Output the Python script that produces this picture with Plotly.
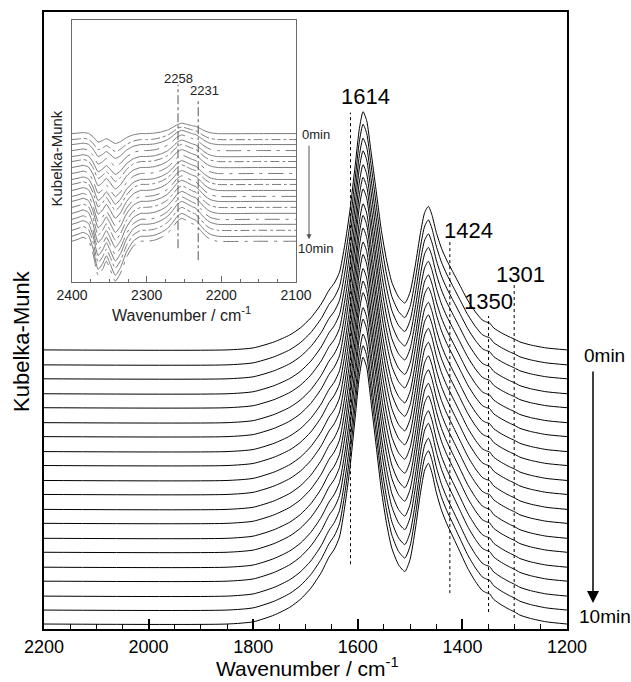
import plotly.graph_objects as go

# ---------------- data ----------------
# main spectrum profile (0 min curve), height above its baseline
main_wn = [2200, 1850, 1800, 1760, 1730, 1710, 1690, 1670, 1655, 1645, 1635, 1625,
           1615, 1605, 1597, 1590, 1583, 1575, 1565, 1555, 1545, 1535, 1522, 1510,
           1500, 1490, 1480, 1472, 1465, 1458, 1450, 1440, 1430, 1420, 1405, 1390,
           1375, 1362, 1354, 1348, 1340, 1325, 1310, 1301, 1290, 1270, 1240, 1200]
main_h = [0, 0, 2, 8, 15, 22, 32, 46, 60, 67, 78, 105,
          140, 185, 222, 239, 230, 200, 160, 120, 90, 68, 53, 47,
          58, 85, 118, 138, 144, 135, 118, 102, 90, 80, 65, 50,
          38, 30, 28, 27, 22, 17, 13, 11, 8, 5, 2, 0]
# baselines of the 20 spectra (0 min ... 10 min) and their band scale
main_base = [280, 265, 251, 236, 222, 207, 193, 178, 164, 149,
             135, 120, 106, 91, 77, 62, 48, 33, 19, 5]
main_scale = [1.00, 1.01, 1.01, 1.02, 1.02, 1.03, 1.04, 1.04, 1.05, 1.06,
              1.06, 1.07, 1.07, 1.08, 1.09, 1.09, 1.10, 1.10, 1.11, 1.12]

# inset spectrum profile: positive band part and negative (gas CO2) part
ins_wn = [2400, 2392, 2385, 2378, 2372, 2365, 2359, 2354, 2349, 2342, 2335, 2327,
          2318, 2308, 2300, 2290, 2280, 2272, 2265, 2259, 2253, 2247, 2240, 2234,
          2228, 2222, 2215, 2205, 2150, 2100]
ins_pos = [0, 0, 0, 0, 0, 0, 0, 0, 0, 0, 0, 0,
           0, 0, 0, 1, 4, 8, 14, 20, 23, 21, 18, 16,
           11, 6, 2, 0, 0, 0]
ins_neg = [0, 2, 4, 1, -12, -34, -28, -20, -28, -40, -32, -16,
           -5, 0, 0, 0, 0, 0, 0, 0, 0, 0, 0, 0,
           0, 0, 0, 0, 0, 0]
ins_base = [149, 143, 138, 132, 126, 121, 115, 109, 103, 98,
            92, 86, 81, 75, 69, 63, 58, 52, 46, 41]
ins_pos_scale = [0.45, 0.55, 0.62, 0.68, 0.72, 0.75, 0.78, 0.8, 0.82, 0.85,
                 0.87, 0.9, 0.92, 0.94, 0.96, 0.98, 1.0, 1.0, 1.0, 1.0]
ins_neg_scale = [0.25, 0.3, 0.35, 0.4, 0.45, 0.5, 0.54, 0.58, 0.62, 0.66,
                 0.7, 0.74, 0.78, 0.82, 0.86, 0.89, 0.92, 0.95, 0.98, 1.0]

main_marks = [1614, 1424, 1350, 1301]
main_mark_top = [518, 389, 314, 346]
main_mark_bot = [65, 36, 17, 11]
ins_marks = [2258, 2231]
ins_mark_top = [198, 184]
ins_mark_bot = [34, 22]

# ---------------- layout geometry ----------------
W, H = 631, 682
L, R, T, B = 44, 567, 10, 629
PW, PH = R - L, B - T


def px(x):
    return (x - L) / PW


def py(y):
    return (B - y) / PH


FONT = "Arial, Liberation Sans, sans-serif"
fig = go.Figure()

for b, s in zip(main_base, main_scale):
    fig.add_trace(go.Scatter(
        x=main_wn, y=[b + s * h for h in main_h], mode="lines",
        line=dict(color="black", width=1, shape="spline", smoothing=0.6),
        hoverinfo="skip", showlegend=False, xaxis="x", yaxis="y"))

dashes = ["solid", "dashdot", "solid", "longdashdot"]
for i, (b, sp, sn) in enumerate(zip(ins_base, ins_pos_scale, ins_neg_scale)):
    fig.add_trace(go.Scatter(
        x=ins_wn, y=[b + sp * p + sn * n for p, n in zip(ins_pos, ins_neg)],
        mode="lines",
        line=dict(color="#7a7a7a", width=1, shape="spline", smoothing=0.5,
                  dash=dashes[i % 4]),
        hoverinfo="skip", showlegend=False, xaxis="x2", yaxis="y2"))

shapes = []
for w, t, bt in zip(main_marks, main_mark_top, main_mark_bot):
    shapes.append(dict(type="line", xref="x", yref="y", x0=w, x1=w, y0=bt, y1=t,
                       line=dict(color="black", width=1, dash="dot")))
for w, t, bt in zip(ins_marks, ins_mark_top, ins_mark_bot):
    shapes.append(dict(type="line", xref="x2", yref="y2", x0=w, x1=w, y0=bt, y1=t,
                       line=dict(color="#555555", width=1, dash="dashdot")))

ann = []


def text(x, y, s, size, color="black", angle=0):
    ann.append(dict(x=px(x), y=py(y), xref="paper", yref="paper", text=s,
                    showarrow=False, textangle=angle,
                    font=dict(family=FONT, size=size, color=color),
                    xanchor="center", yanchor="middle"))


text(365, 95, "1614", 22)
text(468, 229, "1424", 22)
text(488, 300, "1350", 22)
text(520, 273, "1301", 22)
text(604, 355, "0min", 19)
text(605, 616, "10min", 19)
text(307, 667, "Wavenumber / cm<sup>-1</sup>", 21)
text(22, 340, "Kubelka-Munk", 22, angle=-90)

text(178, 77, "2258", 13, "#222222")
text(204, 89, "2231", 13, "#222222")
text(316, 133, "0min", 13, "#222222")
text(315, 247, "10min", 13, "#222222")
text(181, 313, "Wavenumber / cm<sup>-1</sup>", 16, "#222222")
text(57, 157, "Kubelka-Munk", 15, "#222222", angle=-90)

# arrows
ann.append(dict(x=px(593), y=py(603), xref="paper", yref="paper", ax=0, ay=-233,
                showarrow=True, arrowhead=2, arrowsize=1.6, arrowwidth=1.5,
                arrowcolor="black", text=""))
ann.append(dict(x=px(309), y=py(238), xref="paper", yref="paper", ax=0, ay=-95,
                showarrow=True, arrowhead=2, arrowsize=1.0, arrowwidth=1,
                arrowcolor="#555555", text=""))

ix0, ix1, iy0, iy1 = 72, 296, 18, 281

fig.update_layout(
    width=W, height=H,
    margin=dict(l=L, r=W - R, t=T, b=H - B),
    paper_bgcolor="white", plot_bgcolor="white",
    font=dict(family=FONT, color="black"),
    xaxis=dict(range=[2200, 1200], domain=[0, 1], anchor="y",
               showline=True, linecolor="black", linewidth=2, mirror=True,
               showgrid=False, zeroline=False,
               ticks="inside", ticklen=10, tickwidth=1.5, tickcolor="black",
               dtick=200, tick0=1200,
               tickfont=dict(size=18, family=FONT),
               minor=dict(ticks="inside", ticklen=5, dtick=50, tickcolor="black",
                          tickwidth=1.2, showgrid=False)),
    yaxis=dict(range=[0, PH], domain=[0, 1], anchor="x",
               showline=True, linecolor="black", linewidth=2, mirror=True,
               showgrid=False, zeroline=False, showticklabels=False, ticks=""),
    xaxis2=dict(range=[2400, 2100], domain=[px(ix0), px(ix1)], anchor="y2",
                showline=True, linecolor="#6a6a6a", linewidth=1, mirror=True,
                showgrid=False, zeroline=False,
                ticks="inside", ticklen=6, tickcolor="#6a6a6a",
                dtick=100, tick0=2100,
                tickfont=dict(size=14, family=FONT, color="#222222"),
                minor=dict(ticks="inside", ticklen=3, dtick=25, tickcolor="#6a6a6a",
                           showgrid=False)),
    yaxis2=dict(range=[0, iy1 - iy0], domain=[py(iy1), py(iy0)], anchor="x2",
                showline=True, linecolor="#6a6a6a", linewidth=1, mirror=True,
                showgrid=False, zeroline=False, showticklabels=False, ticks=""),
    shapes=shapes, annotations=ann,
)

fig.write_html("out.html")
